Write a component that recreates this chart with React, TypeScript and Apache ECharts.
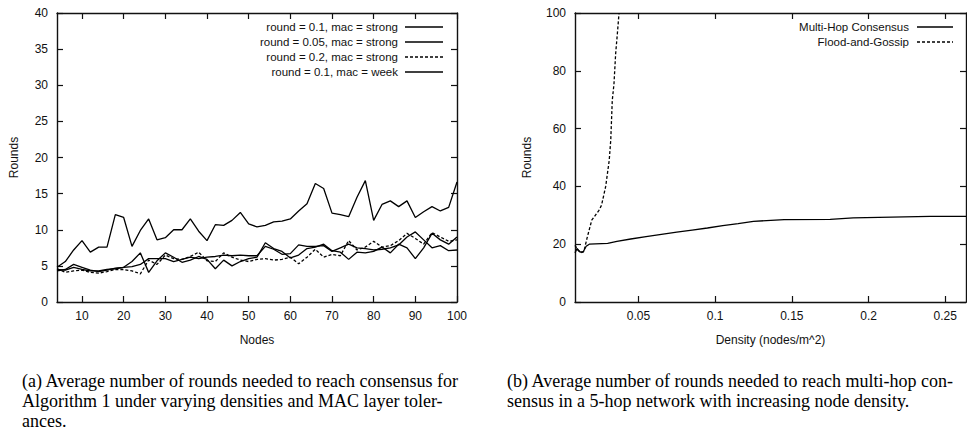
import React, { useEffect, useRef } from "react";
import * as echarts from "echarts";

// ---------- Left chart (a) ----------
const nodes = [4,6,8,10,12,14,16,18,20,22,24,26,28,30,32,34,36,38,40,42,44,46,48,50,52,54,56,58,60,62,64,66,68,70,72,74,76,78,80,82,84,86,88,90,92,94,96,98,100];
const r01Strong = [4.5,4.4,4.8,4.5,4.3,4.3,4.5,4.6,4.8,4.9,5.2,6.0,6.0,6.0,5.6,5.9,6.2,6.0,6.2,6.3,6.5,6.4,6.5,6.4,6.4,7.7,7.3,6.6,6.7,7.9,7.7,7.7,7.8,7.0,7.5,8.0,7.5,7.4,7.2,7.3,7.5,7.9,9.0,9.7,8.6,7.5,7.8,7.1,7.2];
const r005Strong = [4.3,4.5,5.2,4.8,4.4,4.2,4.4,4.7,4.8,5.6,6.8,4.1,5.7,6.8,6.2,5.5,5.8,6.3,5.9,4.6,5.8,5.0,5.6,6.0,6.2,8.2,7.4,7.0,6.1,6.5,7.4,7.6,8.0,7.1,6.9,5.9,6.9,6.8,7.0,7.6,6.8,8.0,7.5,6.0,7.5,9.5,8.6,8.0,9.0];
const r02Strong = [4.6,4.1,4.3,4.4,4.1,4.0,4.2,4.5,4.5,4.3,3.9,5.8,5.2,6.5,6.0,5.9,6.3,6.9,5.7,5.6,6.8,6.2,5.8,5.6,5.9,6.0,5.8,5.9,6.2,5.3,6.2,7.3,6.2,6.6,6.4,8.5,7.2,7.6,8.4,7.6,7.8,8.5,9.5,8.8,8.0,9.6,9.0,8.4,8.6];
const r01Weak = [4.8,5.6,7.2,8.5,6.9,7.6,7.6,12.1,11.7,7.7,9.9,11.5,8.6,8.9,10.0,10.0,11.5,9.8,8.5,10.7,10.6,11.3,12.4,10.8,10.4,10.6,11.1,11.2,11.5,12.6,13.6,16.4,15.7,12.3,12.1,11.8,14.5,16.8,11.3,13.5,14.0,13.2,14.0,11.7,12.5,13.2,12.6,13.1,16.6];
const leftXTicks = [10,20,30,40,50,60,70,80,90,100];
const leftLegend = ["round = 0.1, mac = strong","round = 0.05, mac = strong","round = 0.2, mac = strong","round = 0.1, mac = week"];

// ---------- Right chart (b) ----------
const mhX = [0.0087,0.010,0.012,0.014,0.016,0.018,0.030,0.036,0.045,0.055,0.065,0.075,0.085,0.095,0.105,0.115,0.125,0.145,0.175,0.19,0.24,0.2635];
const mhY = [17.0,18.5,17.3,17.3,19.3,20.0,20.3,21.0,21.8,22.6,23.4,24.2,24.9,25.6,26.4,27.1,27.9,28.5,28.6,29.1,29.6,29.6];
const fgX = [0.0087,0.0105,0.0125,0.0145,0.0165,0.0196,0.0243,0.026,0.0287,0.031,0.032,0.033,0.0341,0.0352,0.0363,0.0374];
const fgY = [19.6,18.0,17.0,17.5,22.0,28.3,31.7,33.5,40,49,56,69.8,75.5,86,92.8,100];
const rightXTicks = [0.05,0.1,0.15,0.2,0.25];
const rightLegend = ["Multi-Hop Consensus","Flood-and-Gossip"];

const captionA = [
  "(a) Average number of rounds needed to reach consensus for",
  "Algorithm 1 under varying densities and MAC layer toler-",
  "ances.",
];
const captionB = [
  "(b) Average number of rounds needed to reach multi-hop con-",
  "sensus in a 5-hop network with increasing node density.",
];

const SANS = "'Liberation Sans', Arial, sans-serif";
const SERIF = "'Liberation Serif', 'DejaVu Serif', serif";
const INK = "#111";

function frameAxis(extra: any) {
  return {
    axisLine: { show: true, onZero: false, lineStyle: { color: INK, width: 1.4 } },
    axisTick: { show: true, inside: true, length: 6, lineStyle: { color: INK, width: 1.2 } },
    splitLine: { show: false },
    ...extra,
  };
}

export default function App() {
  const ref = useRef<HTMLDivElement>(null);
  useEffect(() => {
    if (!ref.current) return;
    const chart = echarts.init(ref.current, undefined, { renderer: "svg" });
    const lineW = 1.3;
    const solid = { color: "#000", width: lineW, type: "solid" as const };
    const dotted = { color: "#000", width: lineW, type: [3, 2] as any };

    const lx = (v: number[]) => nodes.map((n, i) => [n, v[i]]);
    const pairs = (xs: number[], ys: number[]) => xs.map((x, i) => [x, ys[i]]);

    const axLabel = { color: INK, fontFamily: SANS, fontSize: 12 };
    const nameStyle = { color: INK, fontFamily: SANS, fontSize: 12 };

    const graphic: any[] = [];
    const legDash = [false, false, true, false];
    leftLegend.forEach((t, i) => {
      const y = 27 + i * 15;
      graphic.push({ type: "text", x: 398, y, style: { text: t, fill: INK, font: `11.5px ${SANS}`, textAlign: "right", textVerticalAlign: "middle" } });
      graphic.push({ type: "line", shape: { x1: 405, y1: y, x2: 443, y2: y }, style: { stroke: "#000", lineWidth: 1.5, lineDash: legDash[i] ? [3, 2] : null } });
    });
    rightLegend.forEach((t, i) => {
      const y = 27 + i * 15;
      graphic.push({ type: "text", x: 909, y, style: { text: t, fill: INK, font: `11.5px ${SANS}`, textAlign: "right", textVerticalAlign: "middle" } });
      graphic.push({ type: "line", shape: { x1: 917, y1: y, x2: 953, y2: y }, style: { stroke: "#000", lineWidth: 1.5, lineDash: i === 0 ? null : [3, 2] } });
    });
    captionA.forEach((t, i) => {
      graphic.push({ type: "text", x: 22, y: 381 + i * 20, style: { text: t, fill: "#000", font: `18px ${SERIF}`, textVerticalAlign: "middle" } });
    });
    captionB.forEach((t, i) => {
      graphic.push({ type: "text", x: 507, y: 381 + i * 20, style: { text: t, fill: "#000", font: `18px ${SERIF}`, textVerticalAlign: "middle" } });
    });

    chart.setOption({
      animation: false,
      backgroundColor: "#fff",
      grid: [
        { left: 57, right: 510, top: 13, bottom: 142 },
        { left: 575, right: 1, top: 13, bottom: 142 },
      ],
      xAxis: [
        frameAxis({
          type: "value", gridIndex: 0, min: 4, max: 100, position: "bottom",
          name: "Nodes", nameLocation: "middle", nameGap: 32, nameTextStyle: nameStyle,
          axisTick: { show: true, inside: true, length: 6, customValues: leftXTicks, lineStyle: { color: INK, width: 1.2 } },
          axisLabel: { ...axLabel, customValues: leftXTicks, margin: 8 },
        }),
        frameAxis({
          type: "value", gridIndex: 0, min: 4, max: 100, position: "top",
          axisTick: { show: true, inside: true, length: 6, customValues: leftXTicks, lineStyle: { color: INK, width: 1.2 } },
          axisLabel: { show: false },
        }),
        frameAxis({
          type: "value", gridIndex: 1, min: 0.0087, max: 0.2635, position: "bottom",
          name: "Density (nodes/m^2)", nameLocation: "middle", nameGap: 32, nameTextStyle: nameStyle,
          axisTick: { show: true, inside: true, length: 6, customValues: rightXTicks, lineStyle: { color: INK, width: 1.2 } },
          axisLabel: { ...axLabel, customValues: rightXTicks, margin: 8 },
        }),
        frameAxis({
          type: "value", gridIndex: 1, min: 0.0087, max: 0.2635, position: "top",
          axisTick: { show: true, inside: true, length: 6, customValues: rightXTicks, lineStyle: { color: INK, width: 1.2 } },
          axisLabel: { show: false },
        }),
      ],
      yAxis: [
        frameAxis({
          type: "value", gridIndex: 0, min: 0, max: 40, interval: 5, position: "left",
          name: "Rounds", nameLocation: "middle", nameGap: 37, nameTextStyle: nameStyle,
          axisLabel: { ...axLabel, margin: 9 },
        }),
        frameAxis({
          type: "value", gridIndex: 0, min: 0, max: 40, interval: 5, position: "right",
          axisLabel: { show: false },
        }),
        frameAxis({
          type: "value", gridIndex: 1, min: 0, max: 100, interval: 20, position: "left",
          name: "Rounds", nameLocation: "middle", nameGap: 42, nameTextStyle: nameStyle,
          axisLabel: { ...axLabel, margin: 9 },
        }),
        frameAxis({
          type: "value", gridIndex: 1, min: 0, max: 100, interval: 20, position: "right",
          axisLabel: { show: false },
        }),
      ],
      series: [
        { name: leftLegend[0], type: "line", xAxisIndex: 0, yAxisIndex: 0, data: lx(r01Strong), showSymbol: false, lineStyle: solid, clip: true },
        { name: leftLegend[1], type: "line", xAxisIndex: 0, yAxisIndex: 0, data: lx(r005Strong), showSymbol: false, lineStyle: solid, clip: true },
        { name: leftLegend[2], type: "line", xAxisIndex: 0, yAxisIndex: 0, data: lx(r02Strong), showSymbol: false, lineStyle: dotted, clip: true },
        { name: leftLegend[3], type: "line", xAxisIndex: 0, yAxisIndex: 0, data: lx(r01Weak), showSymbol: false, lineStyle: solid, clip: true },
        { name: rightLegend[0], type: "line", xAxisIndex: 2, yAxisIndex: 2, data: pairs(mhX, mhY), showSymbol: false, lineStyle: solid, clip: true },
        { name: rightLegend[1], type: "line", xAxisIndex: 2, yAxisIndex: 2, data: pairs(fgX, fgY), showSymbol: false, lineStyle: dotted, clip: true },
      ],
      graphic,
    });
    return () => chart.dispose();
  }, []);
  return <div ref={ref} style={{ position: "absolute", left: 0, top: 0, width: 967, height: 444 }} />;
}
